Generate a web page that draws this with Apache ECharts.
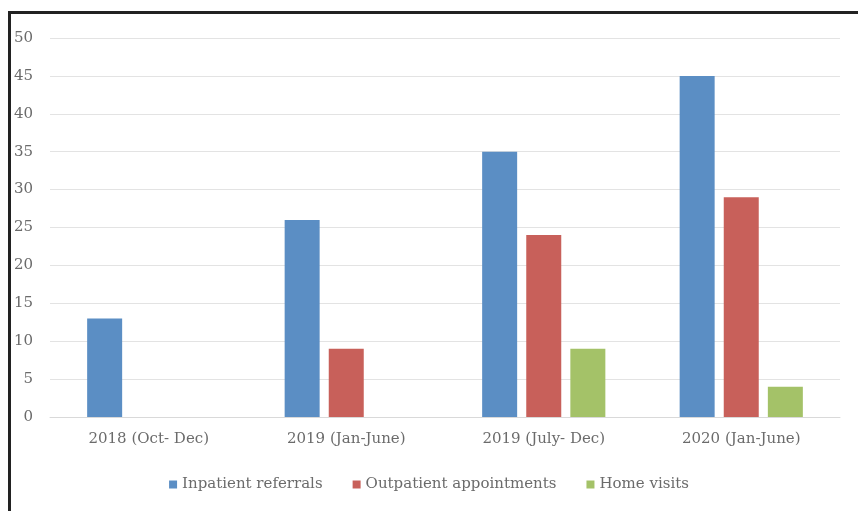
<!DOCTYPE html>
<html>
<head>
<meta charset="utf-8">
<script src="https://cdn.jsdelivr.net/npm/echarts@6/dist/echarts.min.js"></script>
<style>
  html, body { margin: 0; padding: 0; background: #fff; }
  #wrap { position: relative; width: 858px; height: 511px; overflow: hidden; }
  #frame { position: absolute; left: 8px; top: 11px; width: 900px; height: 600px;
           border-left: 3px solid #222; border-top: 3px solid #222; }
  #chart { position: absolute; left: 0; top: 0; width: 858px; height: 511px; }
</style>
</head>
<body>
<div id="wrap">
  <div id="frame"></div>
  <div id="chart"></div>
</div>
<script>
const categories = ['2018 (Oct- Dec)', '2019 (Jan-June)', '2019 (July- Dec)', '2020 (Jan-June)']
const inpatient = [13, 26, 35, 45]
const outpatient = [null, 9, 24, 29]
const homeVisits = [null, null, 9, 4]

const textColor = '#6b6b6b'
const fontFamily = '"DejaVu Serif", serif'

const chart = echarts.init(document.getElementById('chart'))

function makeSeries(name, data, color) {
  return {
    name: name,
    type: 'bar',
    data: data,
    barWidth: 35,
    barGap: '26%',
    itemStyle: { color: color },
    animation: false
  }
}

chart.setOption({
  textStyle: { fontFamily: fontFamily },
  grid: {
    top: 38,
    left: 50,
    right: 18,
    bottom: 94,
    containLabel: false
  },
  legend: {
    bottom: 14,
    left: 'center',
    itemWidth: 8,
    itemHeight: 8,
    itemGap: 30,
    icon: 'rect',
    textStyle: { color: textColor, fontSize: 15, fontFamily: fontFamily }
  },
  xAxis: {
    type: 'category',
    data: categories,
    axisTick: { show: false },
    axisLine: { lineStyle: { color: '#d9d9d9' } },
    axisLabel: { color: textColor, fontSize: 15, margin: 15, fontFamily: fontFamily }
  },
  yAxis: {
    type: 'value',
    min: 0,
    max: 50,
    interval: 5,
    axisLine: { show: false },
    axisTick: { show: false },
    splitLine: { lineStyle: { color: '#e3e3e3' } },
    axisLabel: { color: textColor, fontSize: 15, margin: 17, fontFamily: fontFamily }
  },
  series: [
    makeSeries('Inpatient referrals', inpatient, '#5b8ec4'),
    makeSeries('Outpatient appointments', outpatient, '#c8605a'),
    makeSeries('Home visits', homeVisits, '#a4c268')
  ]
})
</script>
</body>
</html>
